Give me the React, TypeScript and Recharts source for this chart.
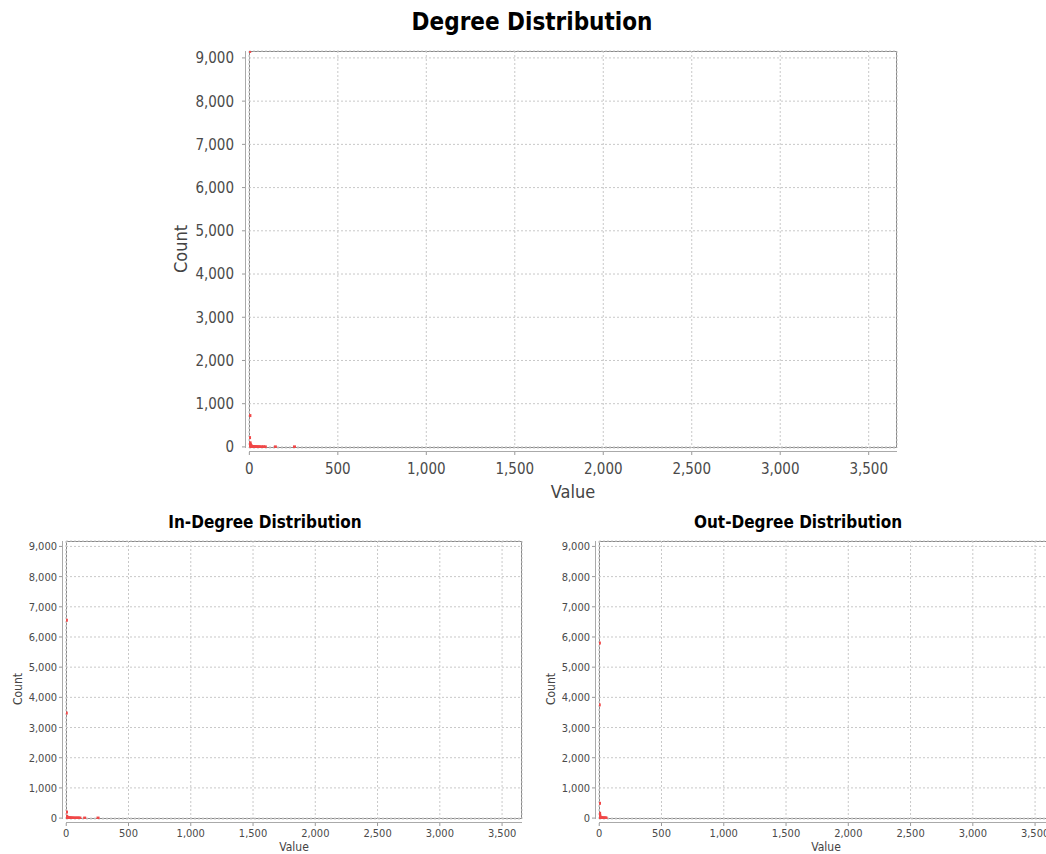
import { ScatterChart, Scatter, XAxis, YAxis, CartesianGrid } from "recharts";

const FONT = "'DejaVu Sans Condensed', 'DejaVu Sans', sans-serif";

// degree -> node count
const degreeValues = [1, 2, 3, 4, 5, 6, 7, 8, 9, 10, 12, 14, 17, 20, 24, 28, 33, 38, 45, 52, 60, 70, 80, 90, 147, 255];
const degreeCounts = [215, 9150, 725, 95, 60, 42, 30, 24, 18, 15, 12, 10, 8, 7, 6, 5, 4, 4, 3, 3, 2, 2, 2, 1, 1, 1];

const inDegreeValues = [0, 1, 2, 3, 4, 5, 6, 8, 10, 13, 16, 20, 25, 30, 36, 43, 50, 60, 70, 80, 90, 100, 110, 148, 255];
const inDegreeCounts = [3480, 6555, 200, 60, 35, 25, 18, 12, 9, 7, 6, 5, 4, 3, 3, 2, 2, 2, 1, 1, 1, 1, 1, 1, 1];

const outDegreeValues = [0, 1, 2, 3, 4, 5, 6, 8, 10, 13, 16, 20, 25, 30, 36, 43, 50, 55];
const outDegreeCounts = [3750, 5800, 490, 160, 90, 45, 25, 15, 10, 7, 5, 4, 3, 2, 2, 1, 1, 1];

const xTicks = [0, 500, 1000, 1500, 2000, 2500, 3000, 3500];
const yTicks = [0, 1000, 2000, 3000, 4000, 5000, 6000, 7000, 8000, 9000];

const fmt = (v: number) => v.toLocaleString("en-US");

function rows(xs: number[], ys: number[]) {
  return xs.map((x, i) => ({ value: x, count: ys[i] }));
}

interface PanelProps {
  data: { value: number; count: number }[];
  title: string;
  titleSize: number;
  titleX: number;
  titleY: number;
  bx: number;
  by: number;
  bw: number;
  bh: number;
  plotLeft: number;
  plotTop: number;
  plotW: number;
  plotH: number;
  yDomain: [number, number];
  tickFont: number;
  xLabelDy: number;
  yLabelDx: number;
  labelFont: number;
  countX: number;
  countY: number;
  valueX: number;
  valueY: number;
}

function Panel(p: PanelProps) {
  const plotBottom = p.plotTop + p.plotH;
  const plotRight = p.plotLeft + p.plotW;
  const XTick = (t: any) => (
    <g>
      <line x1={t.x} x2={t.x} y1={t.y + 4} y2={t.y + 7} stroke="#999" />
      <text x={t.x} y={t.y + p.xLabelDy} textAnchor="middle" fontSize={p.tickFont} fill="#4a4a4a" fontFamily={FONT}>
        {fmt(t.payload.value)}
      </text>
    </g>
  );
  const YTick = (t: any) => (
    <g>
      <line x1={t.x - 4} x2={t.x - 7} y1={t.y} y2={t.y} stroke="#999" />
      <text x={t.x - p.yLabelDx} y={t.y + p.tickFont * 0.36} textAnchor="end" fontSize={p.tickFont} fill="#4a4a4a" fontFamily={FONT}>
        {fmt(t.payload.value)}
      </text>
    </g>
  );
  return (
    <>
      <div
        style={{
          position: "absolute",
          left: p.titleX,
          top: p.titleY,
          transform: "translate(-50%, -50%)",
          fontFamily: FONT,
          fontWeight: "bold",
          fontSize: p.titleSize,
          whiteSpace: "nowrap",
          color: "#000",
        }}
      >
        {p.title}
      </div>
      {/* plot border and offset axis lines, under the chart so dots stay visible */}
      <div
        style={{
          position: "absolute",
          left: p.plotLeft,
          top: p.plotTop,
          width: p.plotW,
          height: p.plotH,
          border: "1px solid #888",
          boxSizing: "border-box",
        }}
      />
      <div style={{ position: "absolute", left: p.plotLeft, top: plotBottom + 3, width: p.plotW, height: 1, background: "#aaa" }} />
      <div style={{ position: "absolute", left: p.plotLeft - 4, top: p.plotTop, width: 1, height: p.plotH, background: "#aaa" }} />
      <div style={{ position: "absolute", left: p.bx, top: p.by }}>
        <ScatterChart
          width={p.bw}
          height={p.bh}
          margin={{ top: p.plotTop - p.by, left: 0, right: p.bx + p.bw - plotRight, bottom: 0 }}
        >
          <CartesianGrid stroke="#c8c8c8" strokeDasharray="2 2" />
          <XAxis
            type="number"
            dataKey="value"
            domain={[-2, 3660]}
            ticks={xTicks}
            interval={0}
            allowDataOverflow
            height={p.by + p.bh - plotBottom}
            axisLine={false}
            tickLine={false}
            tickSize={0}
            tickMargin={0}
            tick={XTick}
          />
          <YAxis
            type="number"
            dataKey="count"
            domain={p.yDomain}
            ticks={yTicks}
            interval={0}
            allowDataOverflow
            width={p.plotLeft - p.bx}
            axisLine={false}
            tickLine={false}
            tickSize={0}
            tickMargin={0}
            tick={YTick}
          />
          <Scatter
            data={p.data}
            isAnimationActive={false}
            shape={(s: any) => <rect x={s.cx - 1.5} y={s.cy - 1.5} width={3} height={3} fill="#f04848" />}
          />
        </ScatterChart>
      </div>
      <div
        style={{
          position: "absolute",
          left: p.countX,
          top: p.countY,
          transform: "translate(-50%, -50%) rotate(-90deg)",
          fontFamily: FONT,
          fontSize: p.labelFont,
          color: "#444",
          whiteSpace: "nowrap",
        }}
      >
        Count
      </div>
      <div
        style={{
          position: "absolute",
          left: p.valueX,
          top: p.valueY,
          transform: "translate(-50%, -50%)",
          fontFamily: FONT,
          fontSize: p.labelFont,
          color: "#444",
          whiteSpace: "nowrap",
        }}
      >
        Value
      </div>
    </>
  );
}

export default function App() {
  return (
    <div
      style={{
        position: "absolute",
        left: 0,
        top: 0,
        width: 1046,
        height: 854,
        overflow: "hidden",
        background: "#fff",
      }}
    >
      <Panel
        data={rows(degreeValues, degreeCounts)}
        title="Degree Distribution"
        titleSize={24}
        titleX={532}
        titleY={22}
        bx={160}
        by={40}
        bw={750}
        bh={460}
        plotLeft={249}
        plotTop={51}
        plotW={648}
        plotH={397}
        yDomain={[-25, 9160]}
        tickFont={15}
        xLabelDy={25.5}
        yLabelDx={15}
        labelFont={18}
        countX={180}
        countY={249}
        valueX={573}
        valueY={491}
      />
      <Panel
        data={rows(inDegreeValues, inDegreeCounts)}
        title="In-Degree Distribution"
        titleSize={17}
        titleX={265}
        titleY={522}
        bx={0}
        by={535}
        bw={530}
        bh={319}
        plotLeft={66}
        plotTop={541}
        plotW={456}
        plotH={278}
        yDomain={[-30, 9180]}
        tickFont={11}
        xLabelDy={17.5}
        yLabelDx={9}
        labelFont={12}
        countX={18}
        countY={689}
        valueX={294}
        valueY={847}
      />
      <Panel
        data={rows(outDegreeValues, outDegreeCounts)}
        title="Out-Degree Distribution"
        titleSize={17}
        titleX={798}
        titleY={522}
        bx={540}
        by={535}
        bw={530}
        bh={319}
        plotLeft={599}
        plotTop={541}
        plotW={456}
        plotH={278}
        yDomain={[-30, 9180]}
        tickFont={11}
        xLabelDy={17.5}
        yLabelDx={9}
        labelFont={12}
        countX={551}
        countY={689}
        valueX={826}
        valueY={847}
      />
    </div>
  );
}
